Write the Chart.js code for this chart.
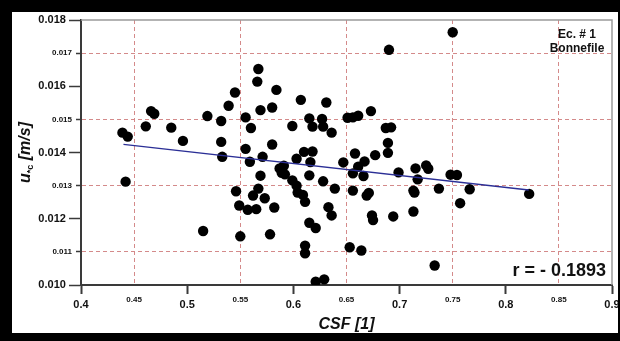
<!DOCTYPE html>
<html><head><meta charset="utf-8">
<script src="https://cdn.jsdelivr.net/npm/chart.js@4.4.1/dist/chart.umd.min.js"></script>
<style>
html,body{margin:0;padding:0;background:#000;width:620px;height:341px;overflow:hidden}
#frame{position:absolute;left:12px;top:12px;width:606px;height:321px;background:#fff;overflow:hidden}
canvas{display:block}
</style></head><body>
<div id="frame"><canvas id="c" width="606" height="321"></canvas></div>
<script>
// ---- data ----
const csf = [0.439,0.444,0.442,0.461,0.466,0.469,0.485,0.496,0.515,0.519,
  0.532,0.532,0.533,0.539,0.545,0.546,0.549,0.550,0.555,0.555,
  0.557,0.559,0.560,0.562,0.565,0.567,0.566,0.567,0.569,0.569,
  0.571,0.573,0.578,0.580,0.580,0.582,0.584,0.587,0.589,0.591,
  0.592,0.599,0.599,0.603,0.603,0.604,0.607,0.609,0.610,0.611,
  0.611,0.611,0.615,0.615,0.615,0.616,0.618,0.618,0.621,0.621,
  0.629,0.628,0.627,0.628,0.631,0.633,0.636,0.636,0.639,0.647,
  0.651,0.653,0.656,0.656,0.656,0.658,0.661,0.661,0.664,0.666,
  0.667,0.669,0.671,0.673,0.674,0.675,0.677,0.687,0.689,0.689,
  0.690,0.692,0.694,0.699,0.713,0.714,0.713,0.715,0.717,0.725,
  0.727,0.733,0.737,0.748,0.750,0.754,0.757,0.766,0.822];
const uc = [0.01460,0.01448,0.01312,0.01479,0.01525,0.01517,0.01475,0.01435,0.01163,0.01510,
  0.01495,0.01432,0.01387,0.01541,0.01581,0.01283,0.01240,0.01147,0.01506,0.01411,
  0.01227,0.01372,0.01474,0.01270,0.01229,0.01652,0.01614,0.01291,0.01330,0.01528,
  0.01387,0.01262,0.01153,0.01536,0.01424,0.01234,0.01589,0.01352,0.01339,0.01360,
  0.01334,0.01480,0.01316,0.01300,0.01381,0.01279,0.01559,0.01272,0.01402,0.01251,
  0.01119,0.01096,0.01188,0.01503,0.01331,0.01371,0.01403,0.01478,0.01172,0.01010,
  0.01017,0.01313,0.01501,0.01478,0.01551,0.01235,0.01460,0.01210,0.01291,0.01370,
  0.01505,0.01114,0.01506,0.01337,0.01285,0.01397,0.01357,0.01511,0.01104,0.01329,
  0.01373,0.01270,0.01278,0.01525,0.01210,0.01196,0.01392,0.01474,0.01399,0.01429,
  0.01710,0.01476,0.01207,0.01340,0.01285,0.01279,0.01222,0.01352,0.01319,0.01361,
  0.01351,0.01059,0.01291,0.01333,0.01763,0.01332,0.01247,0.01289,0.01275];
const regCsf = [0.44, 0.8216];
const regUc = [0.014246, 0.012868];
const xRange = [0.4, 0.9];
const yRange = [0.010, 0.018];
const xStep = 0.05;
const yStep = 0.001;
const xTitle = 'CSF [1]';
const yTitleParts = ['u', '*c', ' [m/s]'];
const noteLines = ['Ec. # 1', 'Bonnefile'];
const rText = 'r = - 0.1893';

// ---- styling ----
const SANS = "'Liberation Sans', Arial, sans-serif";
const GRID = '#d48a8a';
const AXIS = '#3a3a3a';
const NONE = 'rgba(0,0,0,0)';
const isMajorX = v => Math.abs(Math.round(v * 10) - v * 10) < 1e-6;
const isMajorY = v => Math.round(v * 1000) % 2 === 0;

const pts = csf.map((x, i) => ({x, y: uc[i]}));
const reg = regCsf.map((x, i) => ({x, y: regUc[i]}));

const decor = {
  id: 'decor',
  beforeDatasetsDraw(chart) {
    const {ctx, chartArea: a} = chart;
    ctx.save();
    ctx.strokeStyle = '#9a9a9a';
    ctx.lineWidth = 1.5;
    ctx.beginPath();
    ctx.moveTo(a.left, a.top); ctx.lineTo(a.right, a.top); ctx.lineTo(a.right, a.bottom);
    ctx.stroke();
    ctx.restore();
  },
  afterDraw(chart) {
    const {ctx, chartArea: a} = chart;
    ctx.save();
    ctx.fillStyle = '#111';
    ctx.font = 'bold 12px ' + SANS;
    ctx.textAlign = 'center';
    ctx.textBaseline = 'middle';
    ctx.fillText(noteLines[0], a.right - 35, a.top + 15);
    ctx.fillText(noteLines[1], a.right - 35, a.top + 29);
    ctx.font = 'bold 18px ' + SANS;
    ctx.textAlign = 'right';
    ctx.fillText(rText, a.right - 6, a.bottom - 14);
    const big = 'italic bold 16px ' + SANS;
    const small = 'bold 9px ' + SANS;
    ctx.font = big; const w0 = ctx.measureText(yTitleParts[0]).width;
    ctx.font = small; const w1 = ctx.measureText(yTitleParts[1]).width;
    ctx.font = big; const w2 = ctx.measureText(yTitleParts[2]).width;
    const total = w0 + w1 + w2;
    ctx.translate(17.5, (a.top + a.bottom) / 2);
    ctx.rotate(-Math.PI / 2);
    ctx.textAlign = 'left';
    ctx.textBaseline = 'alphabetic';
    let x = -total / 2;
    ctx.font = big; ctx.fillText(yTitleParts[0], x, 0); x += w0;
    ctx.font = small; ctx.fillText(yTitleParts[1], x, 3.5); x += w1;
    ctx.font = big; ctx.fillText(yTitleParts[2], x, 0);
    ctx.restore();
  }
};

new Chart(document.getElementById('c'), {
  type: 'scatter',
  data: {
    datasets: [
      {data: reg, showLine: true, borderColor: '#2b2f96', borderWidth: 1.3, pointRadius: 0, fill: false},
      {data: pts, backgroundColor: '#000', borderColor: '#000', borderWidth: 0, pointRadius: 5.2}
    ]
  },
  options: {
    responsive: false,
    animation: false,
    devicePixelRatio: 1,
    layout: {padding: {top: 8, right: 6, bottom: 0, left: 0}},
    plugins: {legend: {display: false}, tooltip: {enabled: false}},
    scales: {
      x: {
        type: 'linear', min: xRange[0], max: xRange[1],
        ticks: {
          stepSize: xStep, autoSkip: false, maxRotation: 0, padding: 2, color: '#111',
          callback: v => isMajorX(v) ? v.toFixed(1) : v.toFixed(2),
          font: c => (c.tick && isMajorX(c.tick.value))
            ? {family: SANS, size: 11, weight: 'bold', lineHeight: 1.636}
            : {family: SANS, size: 8, weight: 'bold', lineHeight: 0.875}
        },
        grid: {
          color: c => (c.tick && !isMajorX(c.tick.value)) ? GRID : NONE,
          lineWidth: 1, tickLength: 9, tickWidth: 2,
          tickColor: c => (c.tick && isMajorX(c.tick.value)) ? AXIS : NONE
        },
        border: {display: true, color: AXIS, width: 2, dash: [4, 3]},
        title: {display: true, text: xTitle, color: '#111',
          font: {family: SANS, size: 16, weight: 'bold', style: 'italic', lineHeight: 1},
          padding: {top: 0, bottom: 0}},
        afterFit: s => { s.height = 48; s.paddingLeft = 0; s.paddingRight = 0; }
      },
      y: {
        type: 'linear', position: 'left', min: yRange[0], max: yRange[1],
        ticks: {
          stepSize: yStep, autoSkip: false, padding: -3, color: '#111',
          // trailing spaces push the big labels out past the long major tick marks
          callback: v => isMajorY(v) ? v.toFixed(3) + '  ' : v.toFixed(3),
          font: c => (c.tick && isMajorY(c.tick.value))
            ? {family: SANS, size: 11, weight: 'bold'}
            : {family: SANS, size: 8, weight: 'bold'}
        },
        grid: {
          color: c => (c.tick && !isMajorY(c.tick.value)) ? GRID : NONE,
          lineWidth: 1, tickLength: 12, tickWidth: 1.5, tickColor: AXIS,
          tickBorderDash: c => (c.tick && !isMajorY(c.tick.value)) ? [0, 7, 5, 30] : []
        },
        border: {display: true, color: AXIS, width: 2, dash: [4, 3]},
        afterFit: s => { s.width = 69; s.paddingTop = 0; s.paddingBottom = 0; }
      }
    }
  },
  plugins: [decor]
});
</script>
</body></html>
